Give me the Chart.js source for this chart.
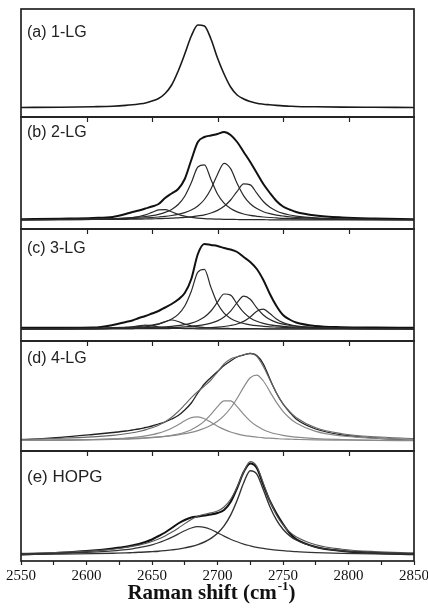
<!DOCTYPE html>
<html>
<head>
<meta charset="utf-8">
<script src="https://cdn.jsdelivr.net/npm/chart.js@4/dist/chart.umd.min.js"></script>
<style>
  html, body { margin: 0; padding: 0; background: #fff; }
  #wrap { width: 428px; height: 611px; }
</style>
</head>
<body>
<div id="wrap"><canvas id="raman" width="428" height="611"></canvas></div>
<script>
// Raman shift grid (cm-1) shared by every curve
const ramanShift = [2550, 2580, 2605, 2620, 2630, 2635, 2640, 2645, 2650, 2655, 2660, 2665, 2670, 2675, 2680, 2685, 2690, 2695, 2700, 2705, 2710, 2715, 2720, 2725, 2730, 2735, 2740, 2745, 2750, 2755, 2760, 2775, 2795, 2820, 2850];
const xTicks = [2550, 2600, 2650, 2700, 2750, 2800, 2850];
const panelLabels = ["(a) 1-LG", "(b) 2-LG", "(c) 3-LG", "(d) 4-LG", "(e) HOPG"];

// (a) 1-LG
const lg1 = [0.5, 0.8, 1.3, 1.8, 2.6, 3.2, 4, 5, 7, 9.5, 14.5, 23, 37, 54, 72, 83, 82, 69, 50, 34, 21, 13, 9, 6.5, 4.7, 3.8, 3.2, 2.6, 2.1, 1.8, 1.5, 1.2, 0.9, 0.7, 0.5];

// (b) 2-LG measured + 4 components
const lg2 = [0.7, 1.3, 2, 3, 6, 8, 9.5, 11.5, 13.5, 16, 22, 26.5, 31, 41, 60, 78, 83, 84.5, 86, 88, 85, 78, 68, 58, 47, 36, 27, 19, 13.5, 10.5, 8, 4.5, 2.5, 1.4, 0.7];
const lg2p1 = [0.1, 0.3, 0.6, 1.0, 1.8, 2.4, 3.5, 5.1, 7.6, 10.1, 10.4, 8.2, 5.6, 3.8, 2.6, 1.9, 1.4, 1.1, 0.9, 0.7, 0.6, 0.5, 0.4, 0.4, 0.3, 0.3, 0.2, 0.2, 0.2, 0.2, 0.2, 0.1, 0.1, 0.1, 0];
const lg2p2 = [0.4, 0.6, 1.0, 1.5, 2.0, 2.4, 2.9, 3.5, 4.4, 5.7, 7.6, 10.6, 15.5, 23.8, 37.3, 53, 55.2, 40.6, 26, 16.8, 11.4, 8.1, 6.0, 4.6, 3.7, 3.0, 2.5, 2.1, 1.7, 1.5, 1.3, 0.9, 0.6, 0.4, 0.3];
const lg2p3 = [0.3, 0.5, 0.8, 1.1, 1.4, 1.6, 1.8, 2.1, 2.5, 3.0, 3.6, 4.5, 5.7, 7.4, 10.0, 14.0, 20.5, 31, 45.6, 56.6, 51.3, 36.5, 24.2, 16.2, 11.4, 8.3, 6.3, 4.9, 4.0, 3.2, 2.7, 1.7, 1.0, 0.6, 0.4];
const lg2p4 = [0.2, 0.3, 0.5, 0.6, 0.7, 0.8, 0.9, 1.0, 1.2, 1.3, 1.6, 1.8, 2.2, 2.6, 3.2, 4.1, 5.2, 7.0, 9.6, 13.7, 20, 28.7, 36.1, 35.1, 26.8, 18.5, 12.7, 9.0, 6.6, 5.0, 3.9, 2.1, 1.1, 0.6, 0.4];

// (c) 3-LG measured + 6 components
const lg3 = [1.2, 1.3, 1.5, 4, 7, 8.5, 11, 13, 15.5, 18, 21.5, 25, 29.5, 36, 50, 75, 85, 84, 83, 81, 79.5, 77, 72, 67, 60, 49, 35, 23, 14, 9.5, 6.5, 3, 1.8, 1.4, 1.3];
const lg3p1 = [0, 0.1, 0.2, 0.6, 1.2, 2, 3.2, 4, 3.2, 2, 1.2, 0.8, 0.6, 0.4, 0.3, 0.2, 0.2, 0.2, 0.1, 0.1, 0.1, 0.1, 0.1, 0.1, 0.1, 0, 0, 0, 0, 0, 0, 0, 0, 0, 0];
const lg3p2 = [0.1, 0.2, 0.3, 0.5, 0.8, 1.1, 1.5, 2.1, 3.2, 4.9, 7.5, 9, 7.5, 4.9, 3.2, 2.1, 1.5, 1.1, 0.8, 0.6, 0.5, 0.4, 0.4, 0.3, 0.3, 0.2, 0.2, 0.2, 0.2, 0.1, 0.1, 0.1, 0.1, 0, 0];
const lg3p3 = [0.3, 0.5, 0.9, 1.3, 1.8, 2.1, 2.6, 3.2, 4.0, 5.2, 7.0, 9.9, 14.6, 23, 37.8, 56.9, 59.6, 41.6, 25.4, 15.9, 10.6, 7.5, 5.5, 4.2, 3.3, 2.7, 2.2, 1.9, 1.6, 1.4, 1.2, 0.8, 0.5, 0.4, 0.2];
const lg3p4 = [0.2, 0.3, 0.5, 0.7, 0.9, 1.0, 1.1, 1.3, 1.5, 1.8, 2.2, 2.7, 3.4, 4.4, 5.9, 8.3, 12, 18, 26.9, 35, 33.9, 24.9, 16.6, 11.1, 7.7, 5.6, 4.2, 3.3, 2.6, 2.1, 1.8, 1.1, 0.7, 0.4, 0.3];
const lg3p5 = [0.2, 0.2, 0.4, 0.5, 0.6, 0.6, 0.7, 0.8, 0.9, 1.1, 1.2, 1.5, 1.7, 2.1, 2.6, 3.3, 4.3, 5.8, 8.1, 11.9, 17.9, 26.4, 32.8, 29.7, 21.1, 14, 9.4, 6.6, 4.8, 3.7, 2.9, 1.6, 0.9, 0.5, 0.3];
const lg3p6 = [0.1, 0.1, 0.1, 0.2, 0.2, 0.2, 0.3, 0.3, 0.3, 0.4, 0.4, 0.5, 0.6, 0.7, 0.8, 1.0, 1.2, 1.5, 1.9, 2.5, 3.5, 5.0, 7.6, 12, 17.7, 19.8, 15.4, 10, 6.4, 4.3, 3.0, 1.3, 0.6, 0.3, 0.2];

// (d) 4-LG measured, fit + 3 components
const lg4 = [1, 3.5, 6.5, 8.5, 10, 11, 12, 13.5, 15, 17, 19, 22, 25.5, 31, 38, 48, 57, 63.5, 69.5, 75.5, 80, 84, 86, 87.5, 85.5, 77, 62, 48, 37, 29, 22, 12, 6, 3, 1];
const lg4fit = [1.7, 2.7, 4.1, 5.6, 7.2, 8.2, 9.5, 11.1, 13.2, 15.8, 19.3, 23.8, 29.5, 36.3, 43.3, 49.5, 54.9, 61, 68.9, 77.1, 82.1, 84.3, 86.2, 87.8, 84.6, 74.5, 61, 48, 37.4, 29.5, 23.5, 13.2, 7.3, 4.2, 2.5];
const lg4p1 = [0.5, 0.9, 1.5, 2.2, 2.9, 3.5, 4.2, 5.1, 6.3, 7.8, 10, 12.8, 16.3, 20.2, 23.4, 24.2, 22.3, 18.7, 14.8, 11.6, 9.0, 7.2, 5.7, 4.7, 3.9, 3.2, 2.8, 2.4, 2.0, 1.8, 1.6, 1.1, 0.8, 0.5, 0.4];
const lg4p2 = [0.5, 0.7, 1.1, 1.5, 1.9, 2.1, 2.4, 2.8, 3.3, 3.9, 4.7, 5.7, 7.0, 8.8, 11.3, 14.9, 19.9, 26.6, 34.3, 40.1, 40.1, 34.3, 26.6, 19.9, 14.9, 11.3, 8.8, 7.0, 5.7, 4.7, 3.9, 2.4, 1.5, 0.9, 0.6];
const lg4p3 = [0.7, 1.1, 1.5, 2.0, 2.4, 2.6, 2.9, 3.2, 3.6, 4.1, 4.7, 5.3, 6.2, 7.3, 8.6, 10.4, 12.7, 15.7, 19.8, 25.4, 33, 42.8, 53.9, 63.2, 65.8, 60, 49.4, 38.6, 29.7, 23, 18, 9.6, 5.1, 2.8, 1.6];

// (e) HOPG measured, fit + 2 components
const hopg = [0.5, 2.3, 4.5, 6.5, 8.2, 9.5, 11, 13, 15.5, 19, 22.5, 27, 31.5, 35, 37.5, 38.5, 39.5, 40.5, 42, 45, 53, 67, 83, 91.5, 87, 70, 54, 41.5, 31, 22, 16, 8, 4, 2, 0.7];
const hopgFit = [1.7, 2.7, 4.2, 5.8, 7.5, 8.6, 9.9, 11.5, 13.6, 16, 19.1, 22.7, 26.8, 31.4, 35.5, 38.7, 40.7, 42.1, 44, 48, 55.7, 68, 83.2, 93.4, 88.6, 71.9, 54, 40, 30.1, 23.2, 18.3, 10.3, 5.8, 3.4, 2.1];
const hopgP1 = [1.1, 1.7, 2.8, 4.1, 5.3, 6.2, 7.3, 8.6, 10.2, 12.2, 14.7, 17.6, 20.9, 24.3, 27, 28.3, 27.7, 25.5, 22.3, 18.9, 15.8, 13.2, 10.9, 9.2, 7.7, 6.6, 5.7, 4.9, 4.3, 3.8, 3.3, 2.4, 1.6, 1.1, 0.8];
const hopgP2 = [0.7, 0.9, 1.4, 1.8, 2.1, 2.4, 2.7, 3.0, 3.4, 3.8, 4.4, 5.1, 5.9, 7.1, 8.5, 10.4, 13, 16.6, 21.7, 29.1, 39.9, 54.8, 72.3, 84.2, 80.9, 65.3, 48.3, 35.1, 25.8, 19.4, 15, 7.9, 4.2, 2.3, 1.3];

const panelAxes = ["ya", "yb", "yc", "yd", "ye"];

function curve(values, axis, color, width) {
  return {
    data: ramanShift.map((x, i) => ({ x: x, y: values[i] })),
    yAxisID: axis,
    borderColor: color,
    borderWidth: width,
    pointRadius: 0,
    fill: false,
    cubicInterpolationMode: "monotone"
  };
}

const datasets = [
  curve(lg1, "ya", "#1a1a1a", 1.6),

  curve(lg2p1, "yb", "#2a2a2a", 1.2),
  curve(lg2p2, "yb", "#2a2a2a", 1.2),
  curve(lg2p3, "yb", "#2a2a2a", 1.2),
  curve(lg2p4, "yb", "#2a2a2a", 1.2),
  curve(lg2, "yb", "#111", 2),

  curve(lg3p1, "yc", "#2a2a2a", 1.2),
  curve(lg3p2, "yc", "#2a2a2a", 1.2),
  curve(lg3p3, "yc", "#2a2a2a", 1.2),
  curve(lg3p4, "yc", "#2a2a2a", 1.2),
  curve(lg3p5, "yc", "#2a2a2a", 1.2),
  curve(lg3p6, "yc", "#2a2a2a", 1.2),
  curve(lg3, "yc", "#111", 2),

  curve(lg4p1, "yd", "#8a8a8a", 1.2),
  curve(lg4p2, "yd", "#8a8a8a", 1.2),
  curve(lg4p3, "yd", "#8a8a8a", 1.2),
  curve(lg4fit, "yd", "#666", 1.1),
  curve(lg4, "yd", "#222", 1.3),

  curve(hopgP1, "ye", "#333", 1.2),
  curve(hopgP2, "ye", "#333", 1.4),
  curve(hopgFit, "ye", "#555", 1.1),
  curve(hopg, "ye", "#111", 2)
];

function panelScale(min, max, weight, stackWeight) {
  return {
    type: "linear",
    position: "left",
    stack: "panels",
    stackWeight: stackWeight,
    weight: weight,
    min: min,
    max: max,
    display: false
  };
}

// frames, inward top ticks, panel labels and the axis title
const panelDecor = {
  id: "panelDecor",
  afterDraw(chart) {
    const { ctx, chartArea, scales } = chart;
    const xs = scales.x;
    const labelDrop = [28, 20, 24, 22, 31];
    ctx.save();
    ctx.strokeStyle = "#222";
    ctx.lineWidth = 1.7;
    panelAxes.forEach((id, i) => {
      const s = scales[id];
      ctx.strokeRect(chartArea.left, s.top, chartArea.right - chartArea.left, s.bottom - s.top);
      if (i > 0) {
        ctx.lineWidth = 1.2;
        xTicks.slice(1, -1).forEach((v) => {
          const px = Math.round(xs.getPixelForValue(v)) + 0.5;
          ctx.beginPath();
          ctx.moveTo(px, s.top);
          ctx.lineTo(px, s.top + 5);
          ctx.stroke();
        });
        ctx.lineWidth = 1.7;
      }
      ctx.fillStyle = "#222";
      ctx.font = (i === 4 ? "17px" : "16px") + ' "Liberation Sans", Arial, sans-serif';
      ctx.textAlign = "left";
      ctx.textBaseline = "alphabetic";
      ctx.fillText(panelLabels[i], chartArea.left + 6, s.top + labelDrop[i]);
    });

    // "Raman shift (cm-1)" with a superscript
    const main = 'bold 21px "Liberation Serif", "Times New Roman", serif';
    const sup = 'bold 13px "Liberation Serif", "Times New Roman", serif';
    ctx.fillStyle = "#111";
    ctx.font = main;
    const w1 = ctx.measureText("Raman shift (cm").width;
    const w3 = ctx.measureText(")").width;
    ctx.font = sup;
    const w2 = ctx.measureText("-1").width + 1;
    let x0 = (chartArea.left + chartArea.right) / 2 - 6 - (w1 + w2 + w3) / 2;
    const base = 599;
    ctx.font = main;
    ctx.fillText("Raman shift (cm", x0, base);
    ctx.font = sup;
    ctx.fillText("-1", x0 + w1 + 1, base - 9);
    ctx.font = main;
    ctx.fillText(")", x0 + w1 + w2, base);
    ctx.restore();
  }
};

new Chart(document.getElementById("raman"), {
  type: "line",
  data: { datasets: datasets },
  options: {
    responsive: false,
    animation: false,
    devicePixelRatio: 1,
    layout: { padding: { left: 21, right: 14, top: 9, bottom: 0 } },
    plugins: { legend: { display: false }, tooltip: { enabled: false } },
    scales: {
      x: {
        type: "linear",
        min: 2550,
        max: 2850,
        border: { display: false },
        grid: { drawOnChartArea: false, drawTicks: true, tickLength: 4, tickWidth: 1.2, tickColor: "#222" },
        ticks: {
          stepSize: 25,
          autoSkip: false,
          maxRotation: 0,
          padding: 2,
          color: "#111",
          font: { family: '"Liberation Serif", "Times New Roman", serif', size: 15 },
          callback: (v) => (xTicks.includes(v) ? String(v) : "")
        },
        afterFit: (scale) => {
          scale.height = 50;
          scale.paddingLeft = 0;
          scale.paddingRight = 0;
        }
      },
      ya: panelScale(-9, 99, 5, 108),
      yb: panelScale(-9, 103, 4, 112),
      yc: panelScale(-12, 100, 3, 112),
      yd: panelScale(-10, 100, 2, 110),
      ye: panelScale(-6, 104, 1, 110)
    }
  },
  plugins: [panelDecor]
});
</script>
</body>
</html>
